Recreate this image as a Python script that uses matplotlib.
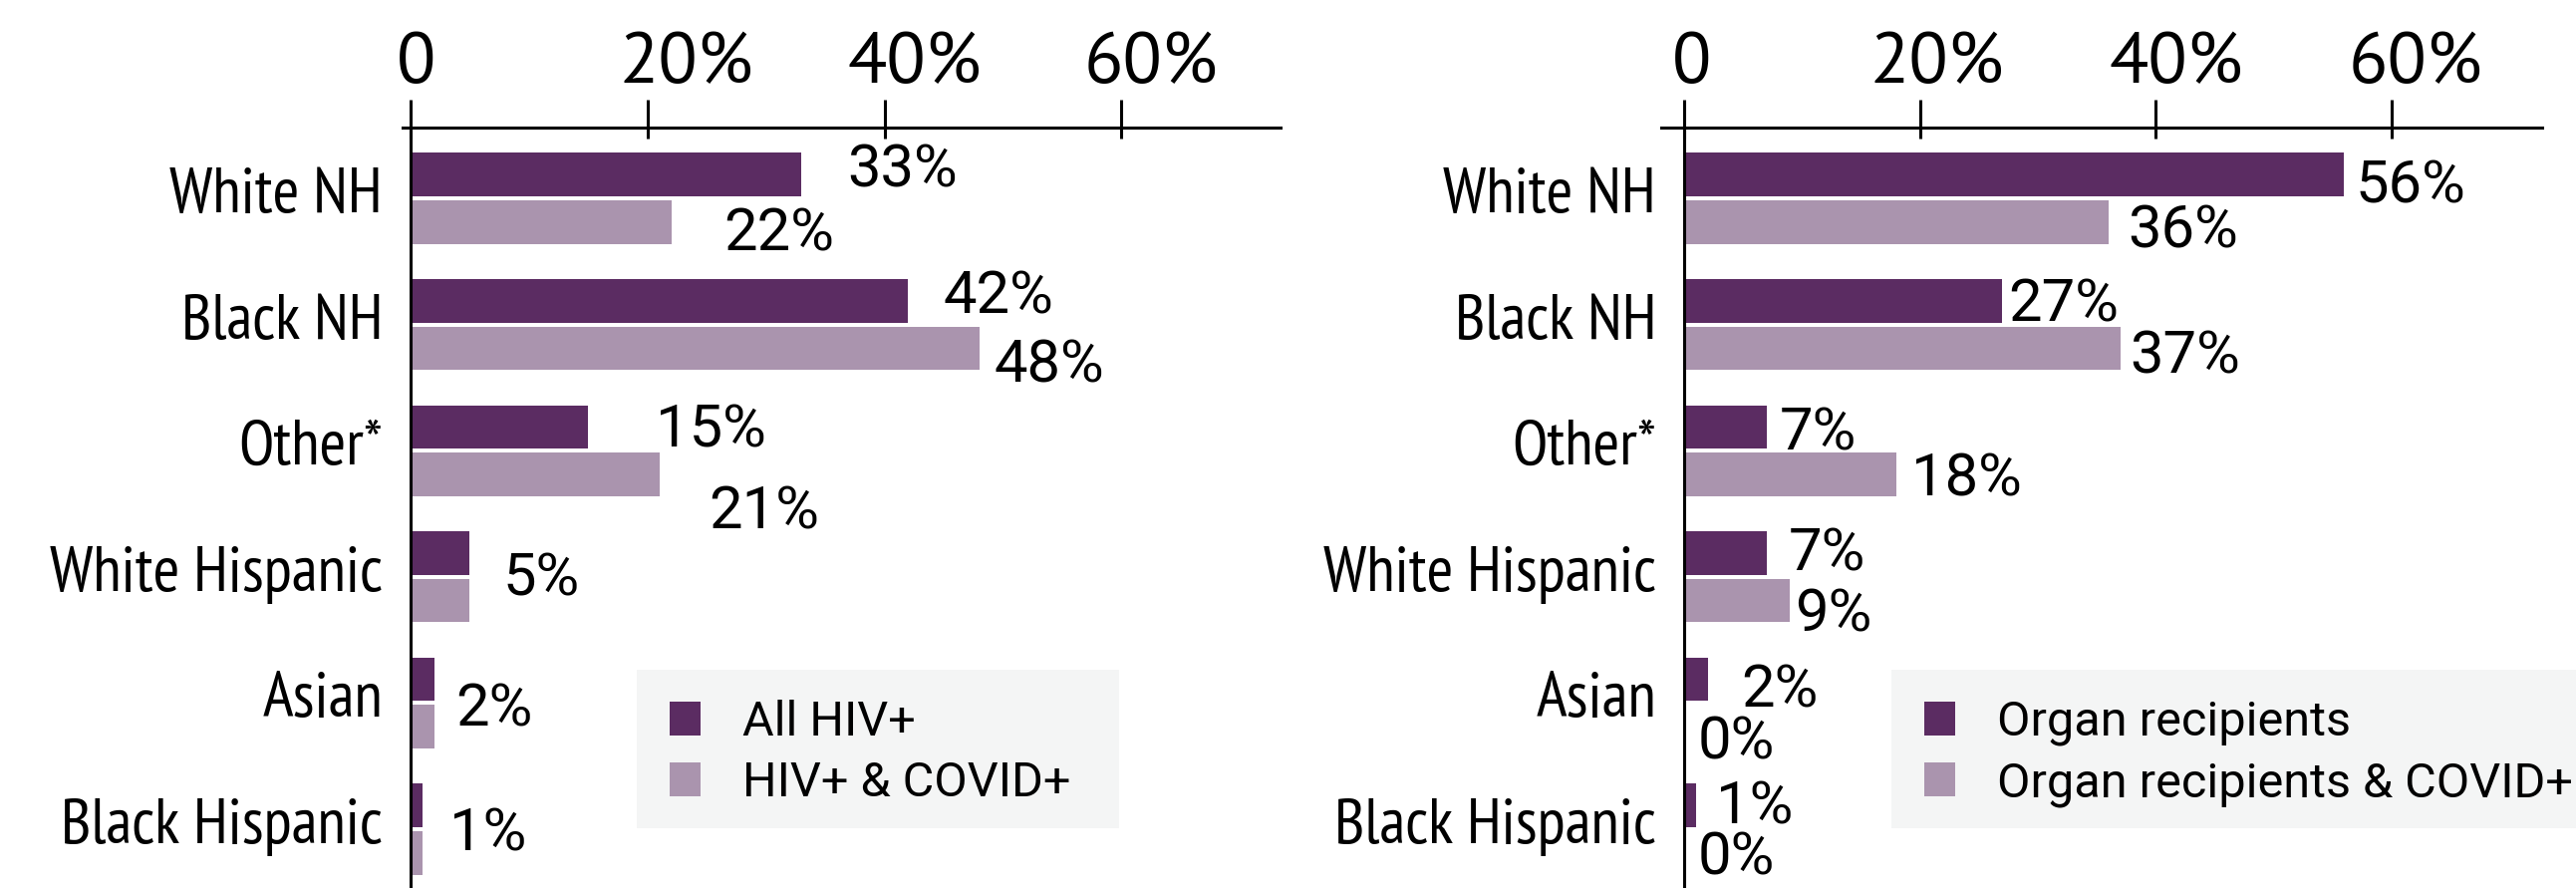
import matplotlib
matplotlib.use("Agg")
import matplotlib.pyplot as plt
import numpy as np
from matplotlib.patches import Rectangle

# données
categories = ["White NH", "Black NH", "Other*", "White Hispanic", "Asian", "Black Hispanic"]
hiv_all = [33, 42, 15, 5, 2, 1]
hiv_covid = [22, 48, 21, 5, 2, 1]
organ_all = [56, 27, 7, 7, 2, 1]
organ_covid = [36, 37, 18, 9, 0, 0]
tick_values = [0, 20, 40, 60]
tick_labels = ["0", "20%", "40%", "60%"]

# étiquettes de valeur : (série, catégorie) -> décalage en pixels (dx, dy vers le bas)
hiv_label_pos = {
    (0, 0): (46, -9), (1, 0): (53, 8),
    (0, 1): (35, -8), (1, 1): (15, 13),
    (0, 2): (68, -1), (1, 2): (50, 33),
    (0, 3): (33, 22), (0, 4): (21, 26), (0, 5): (27, 24),
}
organ_label_pos = {
    (0, 0): (11, 7), (1, 0): (19, 5),
    (0, 1): (6, 0), (1, 1): (10, 4),
    (0, 2): (13, 2), (1, 2): (15, 0),
    (0, 3): (22, -3), (1, 3): (5, 10),
    (0, 4): (34, 7), (1, 4): (14, 11),
    (0, 5): (20, -3), (1, 5): (14, 1),
}
# décalage horizontal des libellés de graduation (pixels)
hiv_tick_dx = [-14, -28, -37, -38]
organ_tick_dx = [-12, -50, -47, -43]

DARK = "#5b2c62"
LIGHT = "#aa94ae"
W, H = 2585, 891
PX = 72 / 100  # points par pixel

tick_font = ["PT Sans", "Open Sans", "DejaVu Sans"]
cat_font = ["PT Sans Narrow", "PT Sans", "DejaVu Sans"]
value_font = ["Roboto", "DejaVu Sans"]


def draw_panel(fig, left, right, zero_px, scale, series, label_pos, tick_dx):
    top = 128
    axh = H - top
    ax = fig.add_axes([left / W, 0, (right - left) / W, axh / H])
    ax.set_xlim(-(zero_px - left) / scale, (right - zero_px) / scale)
    y = np.arange(len(categories))
    ax.set_ylim(len(categories) - 1 + (H - 832) / 126.6, -71 / 126.6)
    off, h = 0.188, 0.345
    ax.barh(y - off, series[0], height=h, color=DARK)
    ax.barh(y + off, series[1], height=h, color=LIGHT)

    for sp in ["right", "bottom"]:
        ax.spines[sp].set_visible(False)
    ax.spines["left"].set_position(("data", 0))
    ax.spines["left"].set_linewidth(2.2)
    ax.spines["top"].set_linewidth(2.2)
    ax.set_xticks([])
    ax.set_yticks([])

    # graduations en haut
    ax.vlines(tick_values, 1 - 11 / axh, 1 + 28 / axh, color="black", lw=2.2,
              transform=ax.get_xaxis_transform(), clip_on=False)
    for v, t, dx in zip(tick_values, tick_labels, tick_dx):
        ax.annotate(t, (v, 1), xycoords=("data", "axes fraction"),
                    xytext=(dx * PX, 45 * PX), textcoords="offset points",
                    ha="left", va="baseline", family=tick_font, fontsize=52,
                    annotation_clip=False)

    # libellés des catégories
    for i, name in enumerate(categories):
        ax.annotate(name, (0, i), xytext=(-28 * PX, -14 * PX), textcoords="offset points",
                    ha="right", va="baseline", family=cat_font, fontsize=46.5,
                    annotation_clip=False)

    for (s, c), (dx, dy) in label_pos.items():
        v = series[s][c]
        yy = c - off if s == 0 else c + off
        ax.annotate(f"{v}%", (v, yy), xytext=(dx * PX, -(dy + 21) * PX),
                    textcoords="offset points", ha="left", va="baseline",
                    family=value_font, fontsize=43, annotation_clip=False)
    return ax


def draw_legend(fig, x0, x1, labels):
    # cadre gris clair + carrés + textes, en pixels depuis le haut
    fig.patches.append(Rectangle((x0 / W, 1 - 831 / H), (x1 - x0) / W, 159 / H,
                                 transform=fig.transFigure, facecolor="#f4f5f5",
                                 edgecolor="none", zorder=0))
    sq = x0 + 33
    for k, (lab, col) in enumerate(zip(labels, [DARK, LIGHT])):
        ytop = 704 + 61 * k
        fig.patches.append(Rectangle((sq / W, 1 - (ytop + 34) / H), 31 / W, 34 / H,
                                     transform=fig.transFigure, facecolor=col,
                                     edgecolor="none", zorder=1))
        fig.text((x0 + 106) / W, 1 - (ytop + 34) / H, lab, ha="left", va="baseline",
                 family=value_font, fontsize=35)


fig = plt.figure(figsize=(W / 100, H / 100), dpi=100)
draw_legend(fig, 639, 1123, ["All HIV+", "HIV+ & COVID+"])
draw_legend(fig, 1898, 2600, ["Organ recipients", "Organ recipients & COVID+"])
draw_panel(fig, 404, 1285, 412, 11.89, [hiv_all, hiv_covid], hiv_label_pos, hiv_tick_dx)
draw_panel(fig, 1667, 2551, 1690, 11.83, [organ_all, organ_covid], organ_label_pos, organ_tick_dx)
fig.savefig("out.png", dpi=100)
